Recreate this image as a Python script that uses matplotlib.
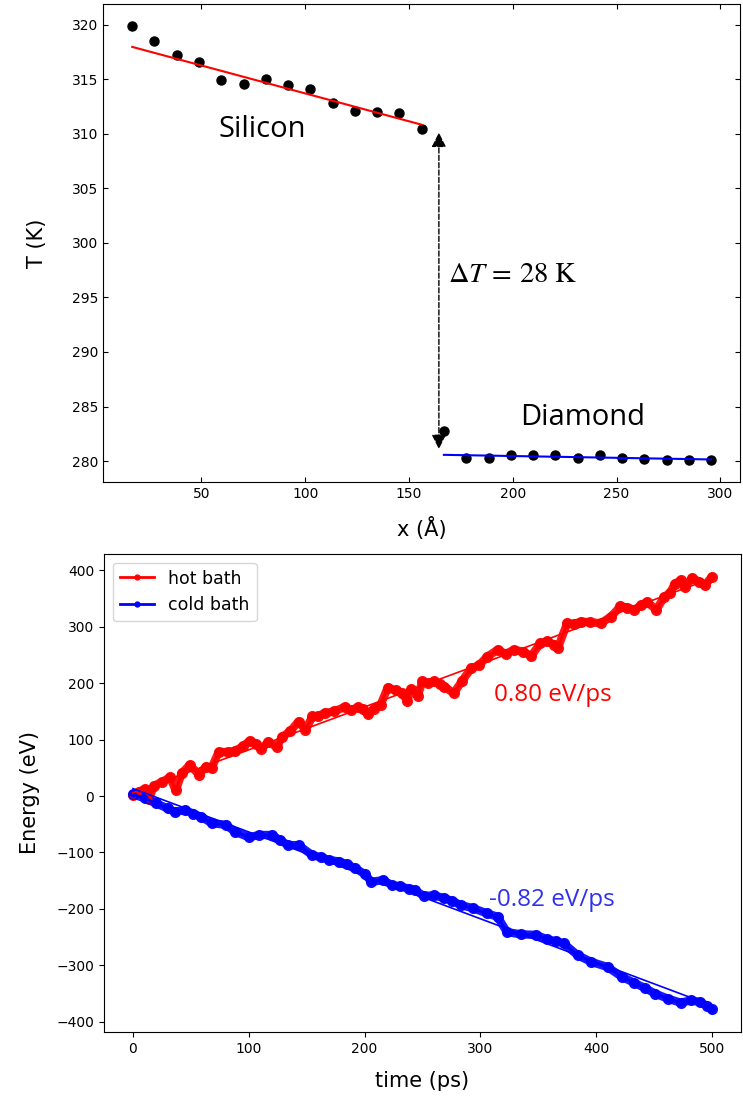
import numpy as np
import matplotlib
matplotlib.use("Agg")
import matplotlib.pyplot as plt

# temperature profile (slab centre positions in Angstrom, temperature in K)
x_si = [16.7, 27.4, 38.1, 48.9, 59.6, 70.3, 81.0, 91.8, 102.5, 113.2, 123.9, 134.7, 145.4, 156.1]
T_si = [319.9, 318.5, 317.2, 316.6, 314.9, 314.6, 315.0, 314.5, 314.1, 312.8, 312.1, 312.0, 311.9, 310.4]
x_dia = [166.8, 177.6, 188.3, 199.0, 209.7, 220.5, 231.2, 241.9, 252.6, 263.3, 274.1, 284.8, 295.5]
T_dia = [282.8, 280.3, 280.3, 280.6, 280.6, 280.6, 280.3, 280.6, 280.3, 280.2, 280.1, 280.1, 280.1]

# accumulated bath energies (ps, eV)
t_hot = [0, 5, 10, 14, 18, 25, 32, 37, 42, 49, 57, 63, 68, 74, 82, 88, 95, 101, 106, 111,
         117, 124, 129, 136, 143, 149, 155, 160, 166, 174, 183, 188, 194, 199, 203, 208, 214, 220, 227, 232,
         237, 240, 246, 250, 255, 260, 265, 269, 277, 284, 292, 299, 306, 315, 322, 329, 337, 344, 352, 358,
         364, 367, 375, 381, 387, 395, 404, 413, 421, 427, 433, 439, 444, 452, 459, 464, 468, 473, 477, 483,
         489, 494, 500]
E_hot = [2, 8, 12, -5, 18, 25, 33, 10, 40, 55, 38, 52, 50, 78, 78, 80, 88, 98, 92, 84,
         96, 87, 105, 115, 132, 117, 141, 142, 147, 150, 158, 152, 157, 154, 145, 155, 162, 192, 187, 183,
         169, 189, 178, 203, 200, 203, 198, 194, 182, 203, 226, 232, 247, 259, 252, 259, 256, 248, 271, 274,
         268, 262, 306, 305, 309, 308, 306, 318, 336, 334, 330, 338, 344, 330, 353, 360, 376, 382, 371, 386,
         380, 374, 388]
t_cold = [0, 10, 20, 30, 36, 45, 52, 59, 68, 80, 88, 100, 109, 120, 127, 134, 143, 155, 162, 169,
          178, 185, 192, 200, 206, 216, 224, 231, 238, 244, 251, 260, 269, 276, 283, 294, 306, 315, 323, 335,
          348, 358, 365, 372, 384, 396, 410, 422, 433, 442, 451, 462, 473, 482, 490, 496, 500]
E_cold = [3, -4, -13, -22, -28, -25, -31, -37, -48, -51, -63, -73, -69, -69, -78, -87, -87, -105, -108, -113,
          -116, -121, -128, -138, -152, -149, -158, -160, -164, -167, -177, -176, -181, -186, -193, -199, -208, -214, -241, -245,
          -246, -254, -257, -261, -282, -294, -303, -320, -331, -340, -350, -359, -366, -362, -365, -372, -378]

fig = plt.figure(figsize=(7.43, 10.99), dpi=100)

# ---- top: temperature profile ----
ax1 = fig.add_axes([0.139, 0.5617, 0.857, 0.4347])
ax1.plot(x_si, T_si, 'o', color='black', ms=6.5)
ax1.plot(x_dia, T_dia, 'o', color='black', ms=6.5)

# linear fits, leaving out the points next to the bath / interface
p_si = np.polyfit(x_si[2:], T_si[2:], 1)
p_dia = np.polyfit(x_dia[1:], T_dia[1:], 1)
xs = np.array([x_si[0], x_si[-1]])
xd = np.array([x_dia[0], x_dia[-1]])
ax1.plot(xs, np.polyval(p_si, xs), color='red', lw=1.5)
ax1.plot(xd, np.polyval(p_dia, xd), color='blue', lw=1.5)

ax1.annotate('', xy=(164.4, 310.1), xytext=(164.4, 281.1),
             arrowprops=dict(arrowstyle='<|-|>', linestyle='--', color='black',
                             lw=1, mutation_scale=22, shrinkA=0, shrinkB=0))
ax1.text(168.8, 297.1, r'$\Delta T\,=\,28\ \mathrm{K}$', fontsize=20.5,
         va='center', ha='left', math_fontfamily='stix')
ax1.text(79.3, 310.4, 'Silicon', fontsize=21, family='Open Sans', ha='center', va='center')
ax1.text(233.7, 284.0, 'Diamond', fontsize=21, family='Open Sans', ha='center', va='center')

ax1.tick_params(direction='in', top=True, right=True, labelsize=10)
ax1.set_xlabel('x (Å)', fontsize=15, labelpad=12)
ax1.set_ylabel('T (K)', fontsize=15, labelpad=18)

# ---- bottom: bath energies ----
ax2 = fig.add_axes([0.14, 0.061, 0.857, 0.435])
ax2.plot(t_hot, E_hot, 'o-', color='red', lw=6, ms=7, alpha=0.9, solid_capstyle='round')
ax2.plot(t_cold, E_cold, 'o-', color='blue', lw=6, ms=7, alpha=0.9, solid_capstyle='round')
ax2.plot(t_hot, E_hot, 'o-', color='red', lw=2, ms=3.5, label='hot bath')
ax2.plot(t_cold, E_cold, 'o-', color='blue', lw=2, ms=3.5, label='cold bath')

tt = np.array([0, 500])
ax2.plot(tt, np.polyval(np.polyfit(t_hot, E_hot, 1), tt), color='red', lw=1.2)
ax2.plot(tt, np.polyval(np.polyfit(t_cold, E_cold, 1), tt), color='blue', lw=1.2)

ax2.text(311.7, 179, '0.80 eV/ps', color='red', fontsize=17.5, family='Open Sans',
         ha='left', va='center')
ax2.text(307.4, -184.4, '-0.82 eV/ps', color='#3030f0', fontsize=17.5, family='Open Sans',
         ha='left', va='center')

ax2.set_ylim(-418, 429)
ax2.tick_params(labelsize=10)
ax2.set_xlabel('time (ps)', fontsize=15, labelpad=11)
ax2.set_ylabel('Energy (eV)', fontsize=15, labelpad=12)
ax2.legend(loc='upper left', fontsize=12.5)

fig.savefig('out.png', dpi=100)
